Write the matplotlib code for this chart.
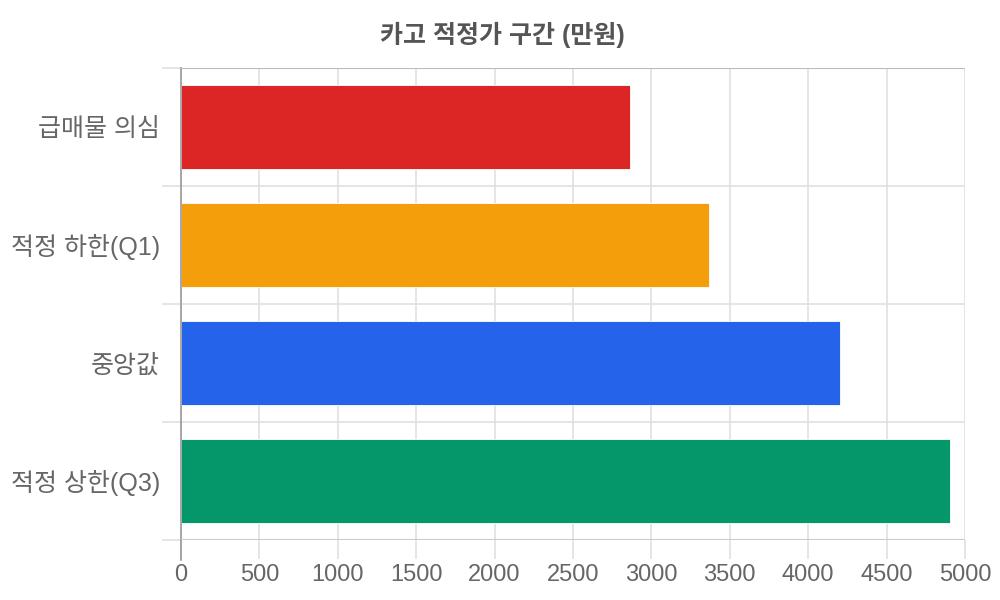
import matplotlib
matplotlib.use("Agg")
import matplotlib.pyplot as plt
from matplotlib.ticker import MultipleLocator, FixedLocator

plt.rcParams['font.family'] = ['Liberation Sans', 'Noto Sans CJK KR', 'DejaVu Sans']

# data
categories = ['급매물 의심', '적정 하한(Q1)', '중앙값', '적정 상한(Q3)']
values = [2863, 3367, 4203, 4904]
colors = ['#DC2626', '#F59E0B', '#2563EB', '#059669']
title = '카고 적정가 구간 (만원)'

fig = plt.figure(figsize=(10, 6), dpi=100)
ax = fig.add_axes([0.181, 0.10, 0.784, 0.7867])

y = list(range(len(categories)))
ax.barh(y, values, height=0.71, color=colors, edgecolor='white', linewidth=0.6, zorder=3)

ax.set_xlim(0, 5000)
ax.set_ylim(len(categories) - 0.5, -0.5)

for s in ax.spines.values():
    s.set_visible(False)

# x grid + ticks
ax.xaxis.set_major_locator(MultipleLocator(500))
ax.grid(axis='x', color='#e0e0e0', linewidth=1.2, zorder=0)
ax.tick_params(axis='x', length=14, width=1.2, color='#e0e0e0', labelsize=17,
               labelcolor='#666666', pad=3)
ax.axvline(0, color='#999999', linewidth=1.2, zorder=4, clip_on=False)
ax.plot([0, 0], [len(categories) - 0.5, len(categories) - 0.5 + 0.17], color='#999999',
        linewidth=1.2, clip_on=False, zorder=4)

# y ticks at centers for labels, minor ticks at boundaries
ax.set_yticks(y)
ax.set_yticklabels(categories)
ax.tick_params(axis='y', length=0, labelsize=18, labelcolor='#666666', pad=15)
bounds = [i - 0.5 for i in range(len(categories) + 1)]
ax.yaxis.set_minor_locator(FixedLocator(bounds))
ax.tick_params(axis='y', which='minor', length=14, width=1.2, color='#e0e0e0')
ax.grid(axis='y', which='minor', color='#e0e0e0', linewidth=1.2, zorder=0)
ax.axhline(-0.5, color='#bbbbbb', linewidth=1.5, zorder=4)
ax.axhline(len(categories) - 0.5, color='#cccccc', linewidth=1.5, zorder=4)

fig.text(0.502, 0.942, title, ha='center', va='center', fontsize=18,
         fontweight='bold', color='#555555')

fig.savefig('out.png', dpi=100)
